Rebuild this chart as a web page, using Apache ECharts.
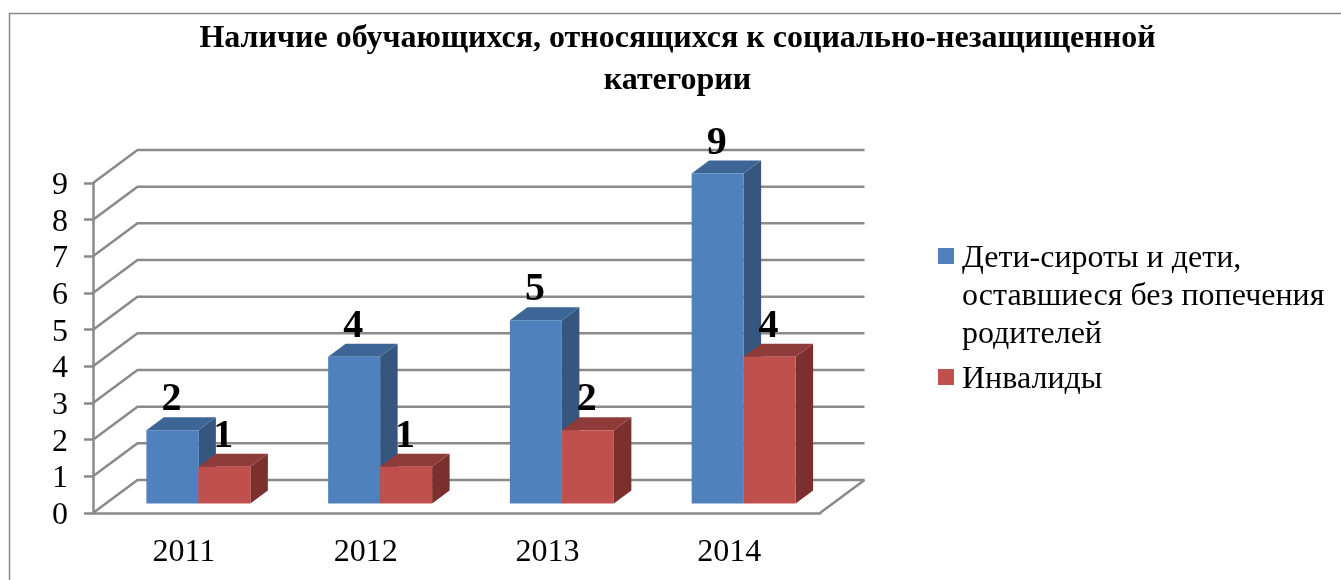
<!DOCTYPE html>
<html>
<head>
<meta charset="utf-8">
<style>
  html, body { margin: 0; padding: 0; background: #fff; }
  #chart { width: 1341px; height: 580px; }
</style>
</head>
<body>
<div id="chart"></div>
<script src="https://cdn.jsdelivr.net/npm/echarts@6/dist/echarts.min.js"></script>
<script>
var titleText = 'Наличие обучающихся, относящихся к социально-незащищенной\nкатегории'
var years = ['2011', '2012', '2013', '2014']
var orphans = [2, 4, 5, 9]
var disabled = [1, 1, 2, 4]
var orphansName = 'Дети-сироты и дети,\nоставшиеся без попечения\nродителей'
var disabledName = 'Инвалиды'
var wallTicks = [0, 1, 2, 3, 4, 5, 6, 7, 8, 9]

var serif = '"Liberation Serif", "Times New Roman", serif'
var lineColor = '#8a8a8a'
// смещение задней стенки и глубина столбика, в пикселях
var wallDepth = [44.5, -33]
var barDepth = [17.5, -13]
var barShift = [14.5, -9.5]

function toRows(values) {
  return values.map(function(v, i) { return [i, v] })
}

function renderWall(params, api) {
  var cs = params.coordSys
  var y = api.coord([0, api.value(0)])[1]
  var xl = cs.x
  var xr = cs.x + cs.width
  var dx = wallDepth[0]
  var dy = wallDepth[1]
  var style = { stroke: lineColor, lineWidth: 2.5, fill: null }
  var children = [
    { type: 'polyline', shape: { points: [[xl, y], [xl + dx, y + dy], [xr + dx, y + dy]] }, style: style }
  ]
  // правое ребро пола
  if (api.value(0) === 0) {
    children.push({ type: 'line', shape: { x1: xr, y1: y, x2: xr + dx, y2: y + dy }, style: style })
  }
  return { type: 'group', children: children }
}

function barRenderer(side, front, top, right) {
  return function(params, api) {
    var i = api.value(0)
    var v = api.value(1)
    var p = api.coord([i, v])
    var p0 = api.coord([i, 0])
    var w = api.size([1, 0])[0] * 0.286
    var x0 = p[0] + barShift[0] + (side < 0 ? -w : 0)
    var x1 = x0 + w
    var yt = p[1] + barShift[1]
    var yb = p0[1] + barShift[1]
    var dx = barDepth[0]
    var dy = barDepth[1]
    return {
      type: 'group',
      children: [
        { type: 'polygon', shape: { points: [[x1, yt], [x1 + dx, yt + dy], [x1 + dx, yb + dy], [x1, yb]] }, style: { fill: right } },
        { type: 'polygon', shape: { points: [[x0, yt], [x0 + dx, yt + dy], [x1 + dx, yt + dy], [x1, yt]] }, style: { fill: top } },
        { type: 'rect', shape: { x: x0, y: yt, width: w, height: yb - yt }, style: { fill: front } },
        {
          type: 'text',
          z2: 100,
          style: {
            x: (x0 + x1) / 2 - 1,
            y: yt - 30,
            text: String(v),
            align: 'center',
            verticalAlign: 'middle',
            font: 'bold 40px ' + serif,
            fill: '#000'
          }
        }
      ]
    }
  }
}

var chart = echarts.init(document.getElementById('chart'))

chart.setOption({
  animation: false,
  title: {
    text: titleText,
    left: 672.5,
    top: 13,
    textAlign: 'center',
    textStyle: { fontFamily: serif, fontWeight: 'bold', fontSize: 32, lineHeight: 41.5, color: '#000' }
  },
  grid: { left: 93, top: 183, width: 727, height: 330 },
  xAxis: {
    type: 'category',
    data: years,
    axisLine: { lineStyle: { color: lineColor, width: 2.5 } },
    axisTick: { length: 9, lineStyle: { color: lineColor, width: 2.5 } },
    axisLabel: { fontFamily: serif, fontSize: 32, color: '#000', margin: 24 }
  },
  yAxis: {
    type: 'value',
    min: 0,
    max: 9,
    interval: 1,
    splitLine: { show: false },
    axisLine: { show: true, lineStyle: { color: lineColor, width: 2.5 } },
    axisTick: { show: true, length: 9, lineStyle: { color: lineColor, width: 2.5 } },
    // цифры в оригинале чуть ниже деления
    axisLabel: { fontFamily: serif, fontSize: 32, color: '#000', margin: 25, verticalAlign: 'top', lineHeight: 5 }
  },
  series: [
    {
      type: 'custom',
      name: 'wall',
      renderItem: renderWall,
      data: wallTicks.map(function(v) { return [v] }),
      encode: { y: 0 },
      silent: true,
      clip: false,
      z: 1
    },
    {
      type: 'custom',
      name: orphansName,
      renderItem: barRenderer(-1, '#4f81bd', '#3d6595', '#34567f'),
      data: toRows(orphans),
      encode: { x: 0, y: 1 },
      itemStyle: { color: '#4f81bd' },
      clip: false,
      z: 3
    },
    {
      type: 'custom',
      name: disabledName,
      renderItem: barRenderer(1, '#c0504d', '#8f3b39', '#7b302e'),
      data: toRows(disabled),
      encode: { x: 0, y: 1 },
      itemStyle: { color: '#c0504d' },
      clip: false,
      z: 4
    }
  ],
  graphic: [
    // рамка диаграммы, правый и нижний края за пределами кадра
    { type: 'rect', silent: true, shape: { x: 9.5, y: 13.5, width: 1400, height: 700 }, style: { fill: null, stroke: lineColor, lineWidth: 1.5 } },
    // легенда: маркер стоит на первой строке, поэтому собрана вручную
    { type: 'rect', shape: { x: 938, y: 248, width: 16, height: 16 }, style: { fill: '#4f81bd' } },
    {
      type: 'text', x: 962, y: 240,
      style: { text: orphansName, font: '32px ' + serif, lineHeight: 38, fill: '#000' }
    },
    { type: 'rect', shape: { x: 938, y: 369, width: 16, height: 16 }, style: { fill: '#c0504d' } },
    {
      type: 'text', x: 962, y: 361,
      style: { text: disabledName, font: '32px ' + serif, lineHeight: 38, fill: '#000' }
    }
  ]
})
</script>
</body>
</html>
